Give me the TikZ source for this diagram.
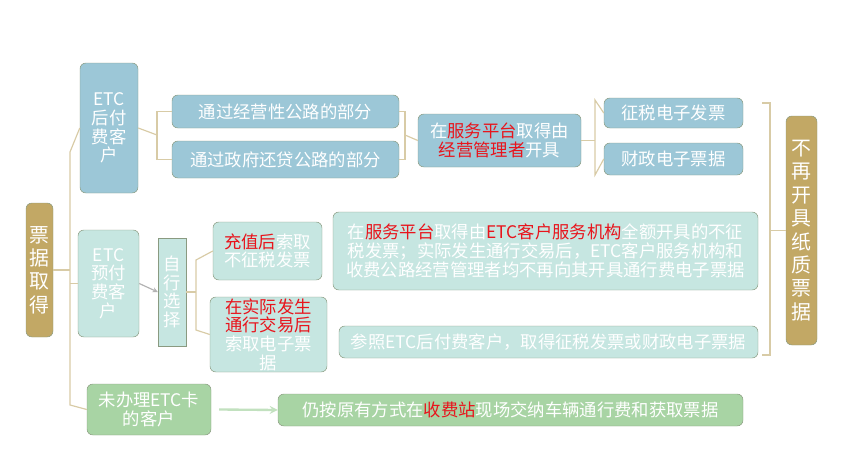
\documentclass[tikz,border=0pt]{standalone}
\usepackage{fontspec}
\setmainfont{Noto Sans CJK SC}
\definecolor{tanbox}{HTML}{C2A865}
\definecolor{bluebox}{HTML}{9CC7D7}
\definecolor{tealbox}{HTML}{C6E6E1}
\definecolor{greenbox}{HTML}{A8D4A4}
\definecolor{edgecol}{HTML}{8A9A80}
\definecolor{linkcol}{HTML}{D8CBA6}
\definecolor{hl}{HTML}{E8141C}
\tikzset{
  boxbase/.style={draw=edgecol, rounded corners=5pt, text=white, align=center, inner sep=1pt, font=\fontsize{14.8}{16}\selectfont},
  tanb/.style={boxbase, fill=tanbox, font=\fontsize{17}{20}\selectfont},
  blueb/.style={boxbase, fill=bluebox},
  tealb/.style={boxbase, fill=tealbox},
  greenb/.style={boxbase, fill=greenbox},
  link/.style={linkcol, line width=1pt}
}
\newcommand{\red}[1]{\textcolor{hl}{#1}}
\begin{document}
\begin{tikzpicture}[x=0.03cm, y=-0.03cm]
\useasboundingbox (0,0) rectangle (844,475);

% root and right summary
\node[tanb, minimum width=27*0.03cm, minimum height=134*0.03cm] (root) at (39.5,270) {票\\据\\取\\得};
\node[tanb, minimum width=31*0.03cm, minimum height=229*0.03cm] (none) at (801.5,230.5) {不\\再\\开\\具\\纸\\质\\票\\据};

% postpaid branch
\node[blueb, minimum width=58*0.03cm, minimum height=130*0.03cm] (post) at (109,128) {ETC\\后付\\费客\\户};
\node[blueb, minimum width=227*0.03cm, minimum height=33*0.03cm] (oper) at (285.5,111.5) {通过经营性公路的部分};
\node[blueb, minimum width=227*0.03cm, minimum height=37*0.03cm] (gov) at (285.5,159.5) {通过政府还贷公路的部分};
\node[blueb, minimum width=163*0.03cm, minimum height=53*0.03cm] (plat) at (499.5,140.5) {在\red{服务平台}取得由\\\red{经营管理者}开具};
\node[blueb, minimum width=139*0.03cm, minimum height=30*0.03cm] (tax) at (673.5,113) {征税电子发票};
\node[blueb, minimum width=139*0.03cm, minimum height=32*0.03cm] (fin) at (673.5,159) {财政电子票据};

% prepaid branch
\node[tealb, minimum width=61*0.03cm, minimum height=107*0.03cm] (pre) at (108.5,283.5) {ETC\\预付\\费客\\户};
\node[tealb, rounded corners=0pt, minimum width=28*0.03cm, minimum height=108*0.03cm] (self) at (172,292) {自\\行\\选\\择};
\node[tealb, minimum width=109*0.03cm, minimum height=58*0.03cm] (charge) at (267.5,251) {\red{充值后}索取\\不征税发票};
\node[tealb, minimum width=117*0.03cm, minimum height=75*0.03cm] (after) at (268.5,334.5) {\red{在实际发生}\\\red{通行交易后}\\索取电子票\\据};
\node[tealb, minimum width=425*0.03cm, minimum height=78*0.03cm] (long) at (545.5,251) {在\red{服务平台}取得由\red{ETC客户服务机构}全额开具的不征\\税发票；实际发生通行交易后，ETC客户服务机构和\\收费公路经营管理者均不再向其开具通行费电子票据};
\node[tealb, minimum width=419*0.03cm, minimum height=32*0.03cm] (ref) at (548.5,342) {参照ETC后付费客户，取得征税发票或财政电子票据};

% no-card branch
\node[greenb, minimum width=124*0.03cm, minimum height=51*0.03cm] (nocard) at (149,409.5) {未办理ETC卡\\的客户};
\node[greenb, minimum width=465*0.03cm, minimum height=32*0.03cm] (site) at (510.5,410) {仍按原有方式在\red{收费站}现场交纳车辆通行费和获取票据};

% brackets
\draw[link] (root.east) -- (70,270);
\draw[link] (post.west) -- (70,152) -- (70,405) -- (nocard.west);
\draw[link] (70,283.5) -- (pre.west);
\draw[link] (post.east) -- (157,135);
\draw[link] (oper.west) -- (163,111.5) -- (157,111.5) -- (157,159.5) -- (163,159.5) -- (gov.west);
\draw[link] (oper.east) -- (405,111.5) -- (405,159.5) -- (gov.east);
\draw[link] (405,135) -- (plat.west);
\draw[link] (plat.east) -- (595,140.5);
\draw[link] (tax.west) -- (595,100) -- (595,175) -- (fin.west);
\draw[link] (762,103) -- (770,103) -- (770,355) -- (762,355);
\draw[link] (770,230.5) -- (none.west);
\draw[link] (self.east) -- (196,292);
\draw[link] (charge.west) -- (196,260) -- (196,330) -- (after.west);
\draw[gray!60, line width=1pt, -stealth] (pre.east) -- (self.west);
\draw[greenbox!70, line width=2pt, -stealth] (nocard.east) ++(8,0) -- (site.west);
\end{tikzpicture}
\end{document}
